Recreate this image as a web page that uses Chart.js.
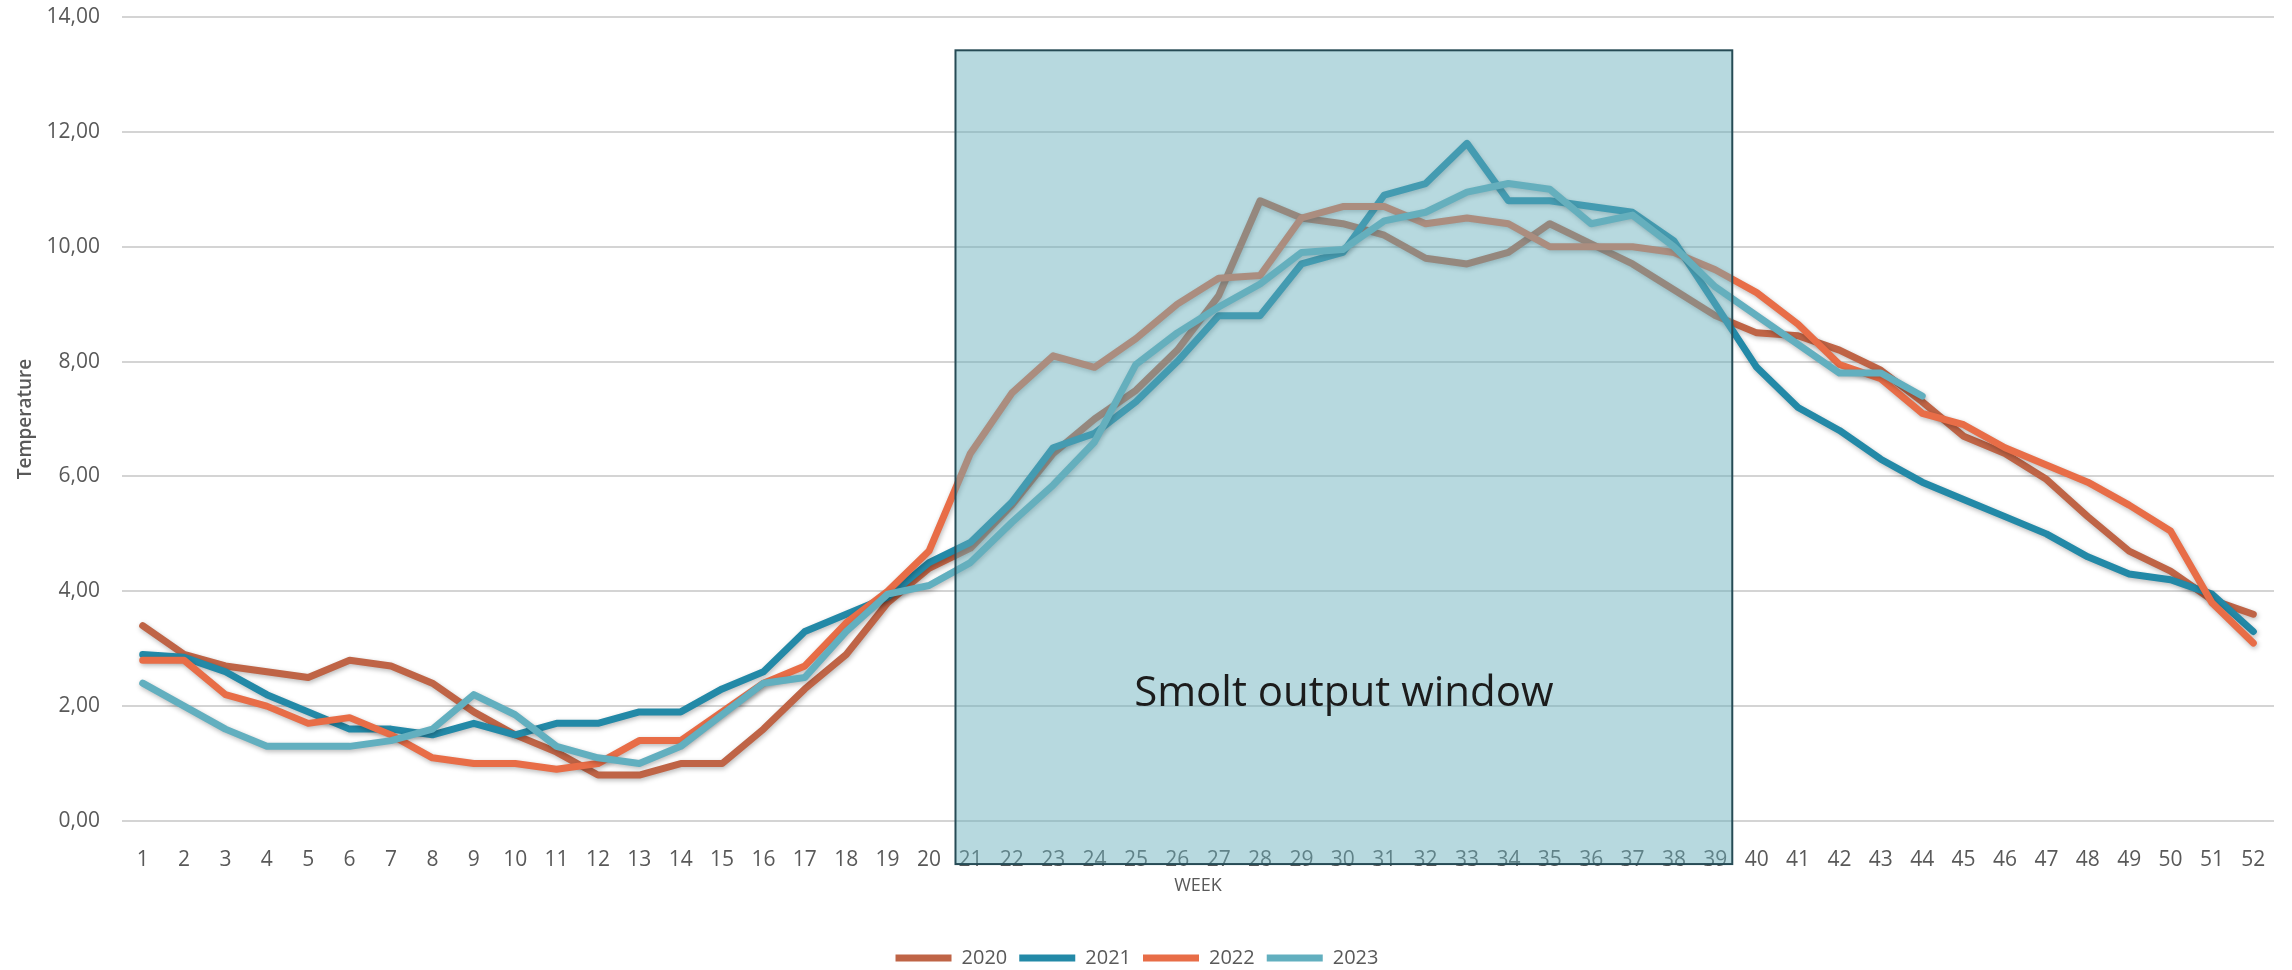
<!DOCTYPE html>
<html>
<head>
<meta charset="utf-8">
<script src="https://cdn.jsdelivr.net/npm/chart.js@4.4.1/dist/chart.umd.min.js"></script>
<style>
  html, body { margin: 0; padding: 0; background: #fff; }
</style>
</head>
<body>
<canvas id="tempChart" width="2292" height="970"></canvas>
<script>
const WEEKS = ["1","2","3","4","5","6","7","8","9","10","11","12","13","14","15","16","17","18","19","20",
    "21","22","23","24","25","26","27","28","29","30","31","32","33","34","35","36","37","38","39","40",
    "41","42","43","44","45","46","47","48","49","50","51","52"];

const T2020 = [3.4, 2.9, 2.7, 2.6, 2.5, 2.8, 2.7, 2.4, 1.9, 1.5,
    1.2, 0.8, 0.8, 1.0, 1.0, 1.6, 2.3, 2.9, 3.8, 4.4,
    4.75, 5.5, 6.4, 7.0, 7.5, 8.2, 9.15, 10.8, 10.5, 10.4,
    10.2, 9.8, 9.7, 9.9, 10.4, 10.05, 9.7, 9.25, 8.8, 8.5,
    8.45, 8.2, 7.85, 7.3, 6.7, 6.4, 5.95, 5.3, 4.7, 4.35,
    3.85, 3.6];
const T2021 = [2.9, 2.85, 2.6, 2.2, 1.9, 1.6, 1.6, 1.5, 1.7, 1.5,
    1.7, 1.7, 1.9, 1.9, 2.3, 2.6, 3.3, 3.6, 3.9, 4.5,
    4.85, 5.55, 6.5, 6.75, 7.3, 8.0, 8.8, 8.8, 9.7, 9.9,
    10.9, 11.1, 11.8, 10.8, 10.8, 10.7, 10.6, 10.1, 9.0, 7.9,
    7.2, 6.8, 6.3, 5.9, 5.6, 5.3, 5.0, 4.6, 4.3, 4.2,
    3.95, 3.3];
const T2022 = [2.8, 2.8, 2.2, 2.0, 1.7, 1.8, 1.5, 1.1, 1.0, 1.0,
    0.9, 1.0, 1.4, 1.4, 1.9, 2.4, 2.7, 3.45, 4.0, 4.7,
    6.4, 7.45, 8.1, 7.9, 8.4, 9.0, 9.45, 9.5, 10.5, 10.7,
    10.7, 10.4, 10.5, 10.4, 10.0, 10.0, 10.0, 9.9, 9.6, 9.2,
    8.65, 7.95, 7.7, 7.1, 6.9, 6.5, 6.2, 5.9, 5.5, 5.05,
    3.8, 3.1];
const T2023 = [2.4, 2.0, 1.6, 1.3, 1.3, 1.3, 1.4, 1.6, 2.2, 1.85,
    1.3, 1.1, 1.0, 1.3, 1.85, 2.4, 2.5, 3.3, 3.95, 4.1,
    4.5, 5.2, 5.85, 6.6, 7.95, 8.5, 8.95, 9.35, 9.9, 9.95,
    10.45, 10.6, 10.95, 11.1, 11.0, 10.4, 10.55, 10.0, 9.3, 8.8,
    8.3, 7.8, 7.8, 7.4];

const SERIES_NAMES = ["2020", "2021", "2022", "2023"];
const SERIES_COLORS = ["#bf6446", "#2389a7", "#e86d47", "#62afbf"];

const Y_TICKS = [0, 2, 4, 6, 8, 10, 12, 14];

// shaded "smolt output" band
const WINDOW_FROM = "21";
const WINDOW_TO = "39";
const WINDOW_TOP = 13.42;
const WINDOW_BOTTOM = -0.75;
const WINDOW_LABEL = "Smolt output window";

const GREY = "#595959";
const FONT = "'Open Sans', 'Noto Sans', sans-serif";

const lineShadow = {
    id: "lineShadow",
    beforeDatasetsDraw(chart) {
        const c = chart.ctx;
        c.save();
        c.shadowColor = "rgba(0,0,0,0.28)";
        c.shadowBlur = 5;
        c.shadowOffsetX = 1;
        c.shadowOffsetY = 2;
    },
    afterDatasetsDraw(chart) {
        chart.ctx.restore();
    }
};

const smoltWindow = {
    id: "smoltWindow",
    afterDraw(chart) {
        const { ctx, scales: { x, y } } = chart;
        const step = x.getPixelForValue(1) - x.getPixelForValue(0);
        const left = x.getPixelForValue(WEEKS.indexOf(WINDOW_FROM)) - step * 0.36;
        const right = x.getPixelForValue(WEEKS.indexOf(WINDOW_TO)) + step * 0.41;
        const top = y.getPixelForValue(WINDOW_TOP);
        const bottom = y.getPixelForValue(WINDOW_BOTTOM);

        ctx.save();
        ctx.fillStyle = "rgba(105,176,188,0.48)";
        ctx.fillRect(left, top, right - left, bottom - top);
        ctx.strokeStyle = "#264b55";
        ctx.lineWidth = 2;
        ctx.strokeRect(left, top, right - left, bottom - top);

        ctx.fillStyle = "#1c1c1c";
        ctx.font = "42px " + FONT;
        ctx.textAlign = "center";
        ctx.textBaseline = "alphabetic";
        ctx.fillText(WINDOW_LABEL, (left + right) / 2, y.getPixelForValue(2));
        ctx.restore();
    }
};

const allData = [T2020, T2021, T2022, T2023];

const datasets = SERIES_NAMES.map((name, i) => ({
    label: name,
    data: allData[i],
    borderColor: SERIES_COLORS[i],
    backgroundColor: SERIES_COLORS[i],
    borderWidth: 7,
    borderCapStyle: "round",
    borderJoinStyle: "round",
    pointRadius: 0,
    tension: 0,
    order: SERIES_NAMES.length - i   // later years on top
}));

new Chart(document.getElementById("tempChart"), {
    type: "line",
    data: { labels: WEEKS, datasets },
    options: {
        responsive: false,
        animation: false,
        layout: { padding: { top: 17, right: 18, left: 0, bottom: -8 } },
        plugins: {
            tooltip: { enabled: false },
            legend: {
                position: "bottom",
                labels: {
                    usePointStyle: true,
                    pointStyle: "line",
                    pointStyleWidth: 56,
                    boxWidth: 56,
                    padding: 12,
                    color: GREY,
                    font: { family: FONT, size: 20 },
                    sort: (a, b) => a.datasetIndex - b.datasetIndex
                }
            }
        },
        scales: {
            x: {
                offset: true,
                grid: { display: false },
                border: { display: false },
                ticks: {
                    color: GREY,
                    font: { family: FONT, size: 21 },
                    padding: 18,
                    autoSkip: false,
                    maxRotation: 0
                },
                title: {
                    display: true,
                    text: "WEEK",
                    color: GREY,
                    font: { family: FONT, size: 18 },
                    padding: { top: 4, bottom: 39 }
                },
                afterFit(scale) { scale.height = 115; }
            },
            y: {
                min: Y_TICKS[0],
                max: Y_TICKS[Y_TICKS.length - 1],
                afterBuildTicks(scale) { scale.ticks = Y_TICKS.map(v => ({ value: v })); },
                grid: { color: "#d4d4d4", lineWidth: 2, drawTicks: false },
                border: { display: false },
                ticks: {
                    color: GREY,
                    font: { family: FONT, size: 21 },
                    padding: 22,
                    callback: v => v.toFixed(2).replace(".", ",")
                },
                title: {
                    display: true,
                    text: "Temperature",
                    color: GREY,
                    font: { family: FONT, size: 19, weight: "600" },
                    padding: { top: 14 }
                },
                afterFit(scale) {
                    scale.width = 122;
                    scale.paddingTop = 0;
                    scale.paddingBottom = 0;
                }
            }
        }
    },
    plugins: [lineShadow, smoltWindow]
});
</script>
</body>
</html>
